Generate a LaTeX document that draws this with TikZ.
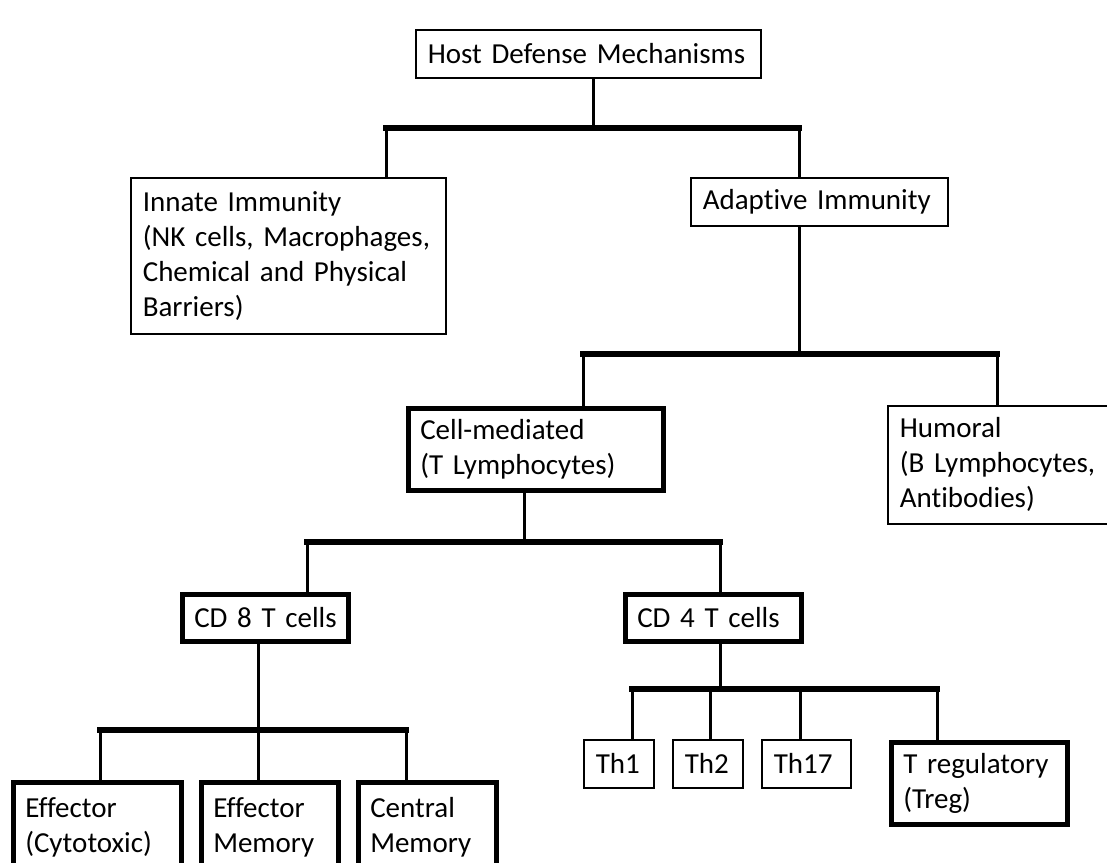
\documentclass[tikz,border=0pt]{standalone}
\usepackage{fontspec}
\setmainfont[Ligatures=NoCommon]{Carlito}
\newfontfamily\boxfont[RawFeature={-liga}]{Carlito}
\newcommand{\boxsetup}{\boxfont\fontsize{29}{35}\selectfont\spaceskip=6pt plus 1pt minus 1pt\relax}
\tikzset{
  basebox/.style={draw=black, fill=white, anchor=north west, inner xsep=12pt, inner ysep=0pt,
    align=left, font=\boxsetup, text=black},
  thinbox/.style={basebox, line width=1.6pt},
  thickbox/.style={basebox, line width=4.5pt},
  vline/.style={line width=3pt, line cap=rect},
  hbar/.style={line width=5.5pt, line cap=rect},
}
\newcommand{\bx}[7]{\node[#1, minimum width=#4pt, minimum height=#5pt, text width=#6pt] (#2) at (#3) {#7};}
\begin{document}
\begin{tikzpicture}[x=1pt,y=-1pt]
\useasboundingbox (0,0) rectangle (1107,862);
\clip (0,0) rectangle (1107,862);
\fill[white] (0,0) rectangle (1107,862);
% boxes
\bx{thinbox}{host}{415,29}{345}{48}{321}{Host Defense Mechanisms}
\bx{thinbox}{innate}{130,177}{315}{156}{291}{Innate Immunity\\(NK cells, Macrophages,\\Chemical and Physical\\Barriers)}
\bx{thinbox}{adaptive}{690,177}{257}{48}{233}{Adaptive Immunity}
\bx{thickbox}{cell}{406,406}{255}{82}{231}{Cell-mediated\\(T Lymphocytes)}
\bx{thinbox}{humoral}{887,405}{250}{118}{226}{Humoral\\(B Lymphocytes,\\Antibodies)}
\bx{thickbox}{cd8}{180,592}{166}{47}{142}{\mbox{CD 8 T cells}}
\bx{thickbox}{cd4}{623,592}{176}{47}{152}{\mbox{CD 4 T cells}}
\bx{thickbox}{eff}{11,780}{168}{90}{144}{Effector\\(Cytotoxic)}
\bx{thickbox}{effmem}{199,780}{137}{90}{113}{Effector\\Memory}
\bx{thickbox}{central}{356,780}{138}{90}{114}{Central\\Memory}
\bx{thinbox}{th1}{583,739}{68}{48}{46}{Th1}
\bx{thinbox}{th2}{672,739}{68}{48}{46}{Th2}
\bx{thinbox}{th17}{761,739}{87}{48}{65}{Th17}
\bx{thickbox}{treg}{889,740}{176}{82}{152}{T regulatory\\(Treg)}
% junction coordinates
\coordinate (j1) at (593,128);
\coordinate (j1l) at (386,128);
\coordinate (j1r) at (799,128);
\coordinate (j2) at (799,354);
\coordinate (j2l) at (583,354);
\coordinate (j2r) at (997,354);
\coordinate (j3) at (524,542);
\coordinate (j3l) at (307,542);
\coordinate (j3r) at (720,542);
\coordinate (j4) at (258,730);
\coordinate (j4l) at (100,730);
\coordinate (j4r) at (406,730);
\coordinate (j5) at (720,689);
\coordinate (j5l) at (632,689);
\coordinate (j5b) at (710,689);
\coordinate (j5c) at (800,689);
\coordinate (j5r) at (937,689);
% level 1
\draw[vline] (j1 |- host.south) -- (j1);
\draw[hbar] (j1l) -- (j1r);
\draw[vline] (j1l) -- (j1l |- innate.north);
\draw[vline] (j1r) -- (j1r |- adaptive.north);
% level 2
\draw[vline] (j2 |- adaptive.south) -- (j2);
\draw[hbar] (j2l) -- (j2r);
\draw[vline] (j2l) -- (j2l |- cell.north);
\draw[vline] (j2r) -- (j2r |- humoral.north);
% level 3
\draw[vline] (j3 |- cell.south) -- (j3);
\draw[hbar] (j3l) -- (j3r);
\draw[vline] (j3l) -- (j3l |- cd8.north);
\draw[vline] (j3r) -- (j3r |- cd4.north);
% level 4 (CD8)
\draw[vline] (j4 |- cd8.south) -- (j4);
\draw[hbar] (j4l) -- (j4r);
\draw[vline] (j4l) -- (j4l |- eff.north);
\draw[vline] (j4) -- (j4 |- effmem.north);
\draw[vline] (j4r) -- (j4r |- central.north);
% level 4 (CD4)
\draw[vline] (j5 |- cd4.south) -- (j5);
\draw[hbar] (j5l) -- (j5r);
\draw[vline] (j5l) -- (j5l |- th1.north);
\draw[vline] (j5b) -- (j5b |- th2.north);
\draw[vline] (j5c) -- (j5c |- th17.north);
\draw[vline] (j5r) -- (j5r |- treg.north);
\end{tikzpicture}
\end{document}
